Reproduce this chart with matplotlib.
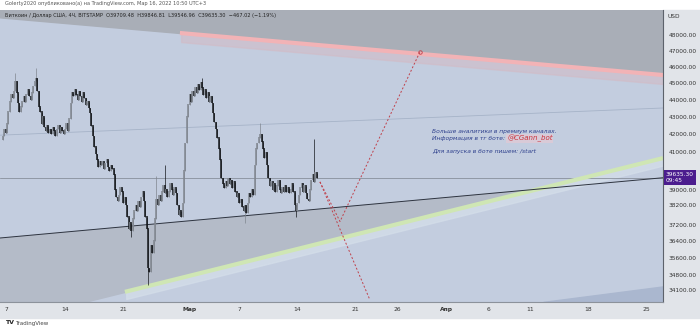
import matplotlib
matplotlib.use('Agg')
import matplotlib.pyplot as plt
import matplotlib.dates as mdates
from matplotlib.patches import Rectangle
from matplotlib.ticker import FixedLocator, FixedFormatter, NullLocator
import numpy as np
import pandas as pd

plt.rcParams['font.family'] = ['DejaVu Sans']

# BTC/USD Bitstamp, 4h closes starting 2022-02-06 12:00
start = pd.Timestamp('2022-02-06 12:00')
first_open = 41700
closes = [
    41900, 42300, 42100, 42600, 43300, 43900, 44300, 44100, 44500, 45100, 44400, 43800,
    43300, 43600, 43900, 44200, 43900, 44300, 44600, 44200, 44000, 44400, 44800, 45100,
    45300, 44500, 43600, 43300, 42600, 43000, 42400, 42200, 42500, 42100, 42300, 42000,
    42400, 42200, 41900, 42300, 42500, 42100, 42400, 42200, 42000, 42300, 42600, 42200,
    42900, 43800, 44400, 44200, 44600, 44300, 44000, 44500, 44200, 43900, 44400, 44100,
    43700, 43900, 43500, 43200, 42500, 41900, 41300, 40900, 40600, 40200, 40500, 40300,
    40500, 40100, 40400, 40600, 40200, 40000, 40300, 40100, 39800, 39000, 38600, 38400,
    38700, 39100, 38900, 38300, 38600, 38200, 37600, 37000, 37300, 36900, 37500, 37900,
    38200, 37900, 38400, 38100, 38600, 38900, 38400, 37600, 37000, 35100, 34900, 36200,
    35800, 36400, 37500, 38500, 38200, 38700, 38400, 38900, 39200, 38800, 39000, 38600,
    38900, 39300, 39000, 38700, 39100, 38800, 38200, 37700, 37900, 37600, 38300, 40000,
    41500, 43000, 43700, 44300, 43900, 44500, 44200, 44700, 44400, 44900, 44600, 45000,
    44700, 44300, 44600, 44100, 44400, 43900, 44200, 43800, 43200, 42700, 42300, 41800,
    41200, 40600, 39600, 39300, 39100, 39400, 39200, 39600, 39300, 39500, 39100, 39400,
    38900, 38600, 38800, 38300, 38500, 38100, 37900, 38200, 37800, 38300, 38800, 38600,
    39000, 38700, 40300, 41200, 41500, 41800, 42000, 41600, 41200, 40700, 41000, 40300,
    39600, 39200, 39400, 39000, 39300, 38900, 39200, 39500, 39000, 38800, 39100, 38900,
    39200, 38900, 39100, 38800, 39000, 39300, 38900, 38200, 37900, 38300, 38700, 39100,
    39300, 38900, 39200, 38800, 38500, 38400, 39000, 39500, 39800, 39400, 39900, 39635.30,
]
# notable wicks (candle index -> price)
wick_highs = {9: 45600, 24: 45900, 111: 39700, 117: 40300, 144: 45300, 186: 42650, 225: 41750}
wick_lows = {93: 36600, 105: 34300, 175: 37300, 212: 37600}
last_price = 39635.30

# drawing tools: (dates, prices)
pink_dates, pink_prices = ['2022-02-27 20:00', '2022-04-27 01:00'], [48130, 45490]
black_dates, black_prices = ['2022-02-06 04:00', '2022-04-27 01:00'], [36550, 39630]
faint_dates, faint_prices = ['2022-02-06 04:00', '2022-04-27 01:00'], [41960, 43520]
green_dates, green_prices = ['2022-02-21 05:00', '2022-04-27 01:00'], [34000, 40690]
fan_low_dates, fan_low_prices = ['2022-04-12 12:00', '2022-04-27 01:00'], [33540, 34250]
proj_up_dates = ['2022-03-16 17:00', '2022-03-19 03:00', '2022-03-28 18:00']
proj_up_prices = [39410, 37370, 46920]
proj_dn_dates = ['2022-03-16 17:00', '2022-03-22 17:00']
proj_dn_prices = [39410, 33650]

price_ticks = [48000, 47000, 46000, 45000, 44000, 43000, 42000, 41000, 39000,
               38200, 37200, 36400, 35600, 34800, 34100]
date_ticks = ['2022-02-07', '2022-02-14', '2022-02-21', '2022-03-01', '2022-03-07',
              '2022-03-14', '2022-03-21', '2022-03-26', '2022-04-01', '2022-04-06',
              '2022-04-11', '2022-04-18', '2022-04-25']
date_labels = ['7', '14', '21', 'Мар', '7', '14', '21', '26', 'Апр', '6', '11', '18', '25']

x_start, x_end = '2022-02-06 03:46', '2022-04-27 00:58'
y_low, y_high = 33540, 49640


def dnum(d):
    return mdates.date2num(pd.to_datetime(d))


def line_fn(dates, prices):
    # straight line in log space, extended both ways
    x = dnum(dates)
    lp = np.log(prices)
    k = (lp[1] - lp[0]) / (x[1] - x[0])
    return lambda xs: np.exp(lp[0] + k * (np.asarray(xs) - x[0]))


fig = plt.figure(figsize=(7, 3.3), dpi=100)
fig.patch.set_facecolor('white')
ax = fig.add_axes([0, 1 - 302 / 330, 663 / 700, 292 / 330])
ax.set_facecolor('#c3cddf')
ax.set_yscale('log')
ax.set_xlim(dnum(x_start), dnum(x_end))
ax.set_ylim(y_low, y_high)

xs = np.linspace(dnum(x_start), dnum(x_end), 400)
pink = line_fn(pink_dates, pink_prices)
black = line_fn(black_dates, black_prices)
green = line_fn(green_dates, green_prices)
fan_low = line_fn(fan_low_dates, fan_low_prices)
xs_pink = xs[xs >= dnum(pink_dates[0])]
xs_green = xs[xs >= dnum(green_dates[0])]

# shaded zones
ax.fill_between(xs, pink(xs), y_high * 1.1, color='#a9aeb7', zorder=0)
ax.fill_between(xs_pink, pink(xs_pink) * 0.988, pink(xs_pink), color='#d4b9c3', alpha=0.5, zorder=0)
ax.fill_between(xs, green(xs), black(xs), where=black(xs) > green(xs),
                color='#b4bbc8', zorder=0, interpolate=True)
ax.fill_between(xs_green, green(xs_green) * 0.99, green(xs_green), color='#d3dde9', alpha=0.8, zorder=0)
ax.fill_between(xs, y_low * 0.9, fan_low(xs), where=fan_low(xs) > y_low,
                color='#aab7cf', zorder=0, interpolate=True)

# drawing-tool lines
ax.plot(dnum(pink_dates), pink_prices, color='#f2b3b6', lw=3.0, zorder=2, solid_capstyle='butt')
ax.plot(dnum(faint_dates), faint_prices, color='#a6b3c8', lw=0.6, zorder=1)
ax.plot(dnum(black_dates), black_prices, color='#2e3440', lw=0.7, zorder=3)
ax.plot(dnum(green_dates), green_prices, color='#cfe6b4', lw=3.0, zorder=2, solid_capstyle='butt')
ax.axhline(last_price, color='#7c838e', lw=0.5, zorder=1)
ax.plot(dnum(proj_up_dates), proj_up_prices, color='#c0404a', lw=0.7, ls=(0, (2, 2)), zorder=3)
ax.plot(dnum(proj_dn_dates), proj_dn_prices, color='#c0404a', lw=0.7, ls=(0, (2, 2)), zorder=3)
ax.plot(dnum(proj_up_dates[-1]), proj_up_prices[-1], 'o', ms=2.5, mfc='none', mec='#c0404a', mew=0.6, zorder=3)

# candles
opens = [first_open] + closes[:-1]
times = mdates.date2num(pd.date_range(start, periods=len(closes), freq='4h'))
for i, (t, o, c) in enumerate(zip(times, opens, closes)):
    col = '#80868f' if c >= o else '#15181c'
    hi = wick_highs.get(i, max(o, c))
    lo = wick_lows.get(i, min(o, c))
    ax.vlines(t, lo, hi, color=col, lw=0.5, zorder=4)
    ax.vlines(t, min(o, c), max(o, c) * 1.0008, color=col, lw=1.1, zorder=4)

# axes and ticks
ax.yaxis.tick_right()
ax.yaxis.set_major_locator(FixedLocator(price_ticks))
ax.yaxis.set_major_formatter(FixedFormatter(['%.2f' % p for p in price_ticks]))
ax.yaxis.set_minor_locator(NullLocator())
ax.tick_params(axis='y', length=0, pad=4, labelsize=4.2, labelcolor='#333333')
ax.xaxis.set_major_locator(FixedLocator(dnum(date_ticks)))
ax.xaxis.set_major_formatter(FixedFormatter(date_labels))
ax.tick_params(axis='x', length=0, pad=3.5, labelsize=4.3, labelcolor='#333333')
for lbl in ax.get_xticklabels():
    if lbl.get_text() in ('Мар', 'Апр'):
        lbl.set_fontweight('bold')
for side in ('top', 'left'):
    ax.spines[side].set_visible(False)
ax.spines['right'].set_color('#5d626b')
ax.spines['right'].set_linewidth(0.8)
ax.spines['bottom'].set_color('#8c929b')
ax.spines['bottom'].set_linewidth(0.8)

# panels
fig.patches.append(Rectangle((663 / 700, 12 / 330), 37 / 700, 308 / 330,
                             transform=fig.transFigure, color='#e1e4e9', zorder=-1))
fig.patches.append(Rectangle((0, 12 / 330), 663 / 700, 16 / 330,
                             transform=fig.transFigure, color='#e1e4e9', zorder=-1))

# price label
ax.text(1.004, last_price, '39635.30\n09:45', transform=ax.get_yaxis_transform(),
        ha='left', va='center', fontsize=4.2, color='white', linespacing=1.1,
        bbox=dict(boxstyle='square,pad=0.35', fc='#4b1c8e', ec='none'), zorder=6, clip_on=False)
fig.text(667 / 700, 1 - 17 / 330, 'USD', fontsize=4.2, color='#333333', va='center')

# header
fig.text(5 / 700, 1 - 4 / 330, 'Golerty2020 опубликовано(а) на TradingView.com, Мар 16, 2022 10:50 UTC+3',
         fontsize=3.6, color='#555555', va='center')
fig.text(5 / 700, 1 - 15 / 330,
         'Биткоин / Доллар США, 4Ч, BITSTAMP  O39709.48  H39846.81  L39546.96  C39635.30  −467.02 (−1.19%)',
         fontsize=3.6, color='#222222', va='center')
fig.text(5 / 700, 1 - 323 / 330, 'TV', fontsize=4.5, fontweight='bold', color='#222222', va='center')
fig.text(15 / 700, 1 - 323 / 330, 'TradingView', fontsize=4, color='#444444', va='center')

# promo text
txt_kw = dict(transform=ax.transAxes, fontsize=4.3, style='italic', color='#2d3f8c', va='center')
ax.text(0.652, 0.584, 'Больше аналитики в премиум каналах.', **txt_kw)
t2 = ax.text(0.652, 0.560, 'Информация в тг боте: ', **txt_kw)
ax.text(0.652, 0.515, 'Для запуска в боте пишем: /start', **txt_kw)
fig.canvas.draw()
bb = t2.get_window_extent()
x_ax = ax.transAxes.inverted().transform((bb.x1, bb.y0))[0]
ax.text(x_ax, 0.560, '@CGann_bot', transform=ax.transAxes, fontsize=5, style='italic',
        color='#c8323c', va='center',
        bbox=dict(boxstyle='square,pad=0.1', fc='#e9c9d3', ec='none', alpha=0.6))

fig.savefig('out.png', dpi=100)
